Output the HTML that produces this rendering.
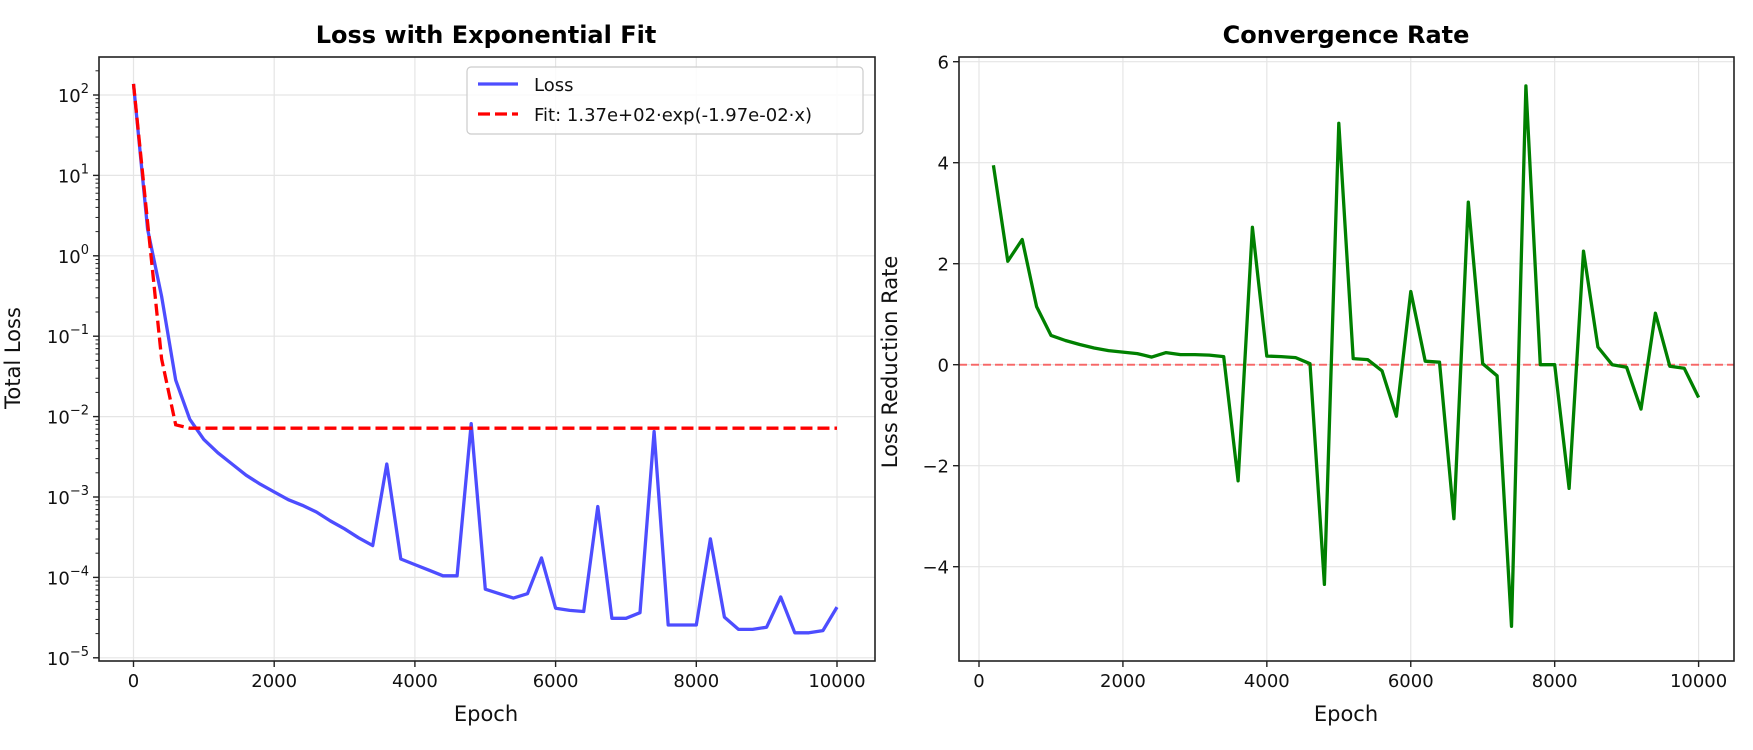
<!DOCTYPE html>
<html><head><meta charset="utf-8"><style>
html,body{margin:0;padding:0;background:#fff;}
svg{display:block;font-family:"DejaVu Sans","Liberation Sans",sans-serif;}
</style></head><body>
<svg id="s" width="1753" height="750" viewBox="0 0 1753 750" xmlns="http://www.w3.org/2000/svg"></svg>
<script>
(function(){
const S=document.getElementById('s');let h='';
function L(x1,y1,x2,y2,st){h+=`<line x1="${x1}" y1="${y1}" x2="${x2}" y2="${y2}" style="${st}"/>`;}
function T(x,y,t,st){h+=`<text x="${x}" y="${y}" style="${st}">${t}</text>`;}
const lx0=99,lx1=875,ty0=57,bot=661;
const lX=e=>133.5+e*0.07035, lY=k=>95+k*80.4;
for(let e=0;e<=10000;e+=2000){L(lX(e),ty0,lX(e),bot,'stroke:#e5e5e5;stroke-width:1.2');}
for(let k=0;k<=7;k++){L(lx0,lY(k),lx1,lY(k),'stroke:#e5e5e5;stroke-width:1.2');}
const rx0=959,rx1=1734;const rX=e=>979+e*0.07196,rY=v=>364.7-v*50.5;
for(let e=0;e<=10000;e+=2000){L(rX(e),ty0,rX(e),bot,'stroke:#e5e5e5;stroke-width:1.2');}
for(let v=-4;v<=6;v+=2){L(rx0,rY(v),rx1,rY(v),'stroke:#e5e5e5;stroke-width:1.2');}
const ly=[75,205,265,340,375,393,405,415,425,433,440,447,452,458,466,473,481,488,415,500,505,510,515,515,379,527,531,535,531,499,544,546,547,453,553,553,548,386,559,559,559,482,552,563,563,561,534,566,566,564,543];
let p=ly.map((y,i)=>lX(i*200).toFixed(1)+','+(y*1.118).toFixed(1)).join(' ');
h+=`<polyline points="${p}" fill="none" stroke="#4d4dff" stroke-width="3.3" stroke-linejoin="round"/>`;
let fp=[[0,75],[200,199],[400,321],[600,380],[800,383],[10000,383]].map(a=>lX(a[0]).toFixed(1)+','+(a[1]*1.118).toFixed(1)).join(' ');
h+=`<polyline points="${fp}" fill="none" stroke="#ff0000" stroke-width="3.3" stroke-dasharray="12,5"/>`;
const rv=[3.95,2.05,2.48,1.15,0.58,0.48,0.4,0.33,0.28,0.25,0.22,0.15,0.24,0.2,0.2,0.19,0.16,-2.3,2.72,0.17,0.16,0.14,0.02,-4.35,4.78,0.12,0.1,-0.12,-1.02,1.45,0.07,0.05,-3.05,3.22,0.02,-0.22,-5.18,5.52,0,0,-2.45,2.25,0.35,0,-0.05,-0.88,1.02,-0.03,-0.07,-0.65];
L(rx0,rY(0),rx1,rY(0),'stroke:#ff0000;stroke-opacity:0.55;stroke-width:2;stroke-dasharray:8,4');
p=rv.map((v,i)=>rX((i+1)*200).toFixed(1)+','+rY(v).toFixed(1)).join(' ');
h+=`<polyline points="${p}" fill="none" stroke="#008000" stroke-width="3.3" stroke-linejoin="round"/>`;
h+=`<rect x="${lx0}" y="${ty0}" width="${lx1-lx0}" height="${bot-ty0}" fill="none" stroke="#222" stroke-width="1.6"/>`;
h+=`<rect x="${rx0}" y="${ty0}" width="${rx1-rx0}" height="${bot-ty0}" fill="none" stroke="#222" stroke-width="1.6"/>`;
const tk='font-size:18px;fill:#111';
for(let e=0;e<=10000;e+=2000){L(lX(e),bot,lX(e),bot+6,'stroke:#222;stroke-width:1.4');T(lX(e),bot+26,e,tk+';text-anchor:middle');
 L(rX(e),bot,rX(e),bot+6,'stroke:#222;stroke-width:1.4');T(rX(e),bot+26,e,tk+';text-anchor:middle');}
for(let k=0;k<=7;k++){const y=lY(k);L(lx0-6,y,lx0,y,'stroke:#222;stroke-width:1.4');
 const ex=2-k;T(lx0-10,y+7,`10<tspan dy="-9" font-size="13">${ex<0?'−'+(-ex):ex}</tspan>`,tk+';text-anchor:end');
 for(let m=2;m<=9;m++){const yy=y-Math.log10(m)*80.4; if(yy>=ty0)L(lx0-3.5,yy,lx0,yy,'stroke:#222;stroke-width:1');}}
for(let v=-4;v<=6;v+=2){L(rx0-6,rY(v),rx0,rY(v),'stroke:#222;stroke-width:1.4');T(rx0-10,rY(v)+7,v<0?'−'+(-v):v,tk+';text-anchor:end');}
const lb='font-size:21px;fill:#111;text-anchor:middle';
T(486,721,'Epoch',lb);T(1346,721,'Epoch',lb);
h+=`<text transform="translate(20,358) rotate(-90)" style="${lb}">Total Loss</text>`;
h+=`<text transform="translate(897,362) rotate(-90)" style="${lb}">Loss Reduction Rate</text>`;
const tt='font-size:24px;font-weight:bold;fill:#000;text-anchor:middle';
T(486,43,'Loss with Exponential Fit',tt);T(1346,43,'Convergence Rate',tt);
h+=`<rect x="467" y="67" width="396" height="67" rx="4" fill="#fff" fill-opacity="0.85" stroke="#ccc" stroke-width="1.2"/>`;
L(478,84,518,84,'stroke:#4d4dff;stroke-width:3.3');
L(478,114,518,114,'stroke:#ff0000;stroke-width:3.3;stroke-dasharray:12,5');
T(534,91,'Loss','font-size:18px;fill:#111');
T(534,121,'Fit: 1.37e+02·exp(-1.97e-02·x)','font-size:18px;fill:#111');
S.innerHTML=h;
})();
</script>
</body></html>
